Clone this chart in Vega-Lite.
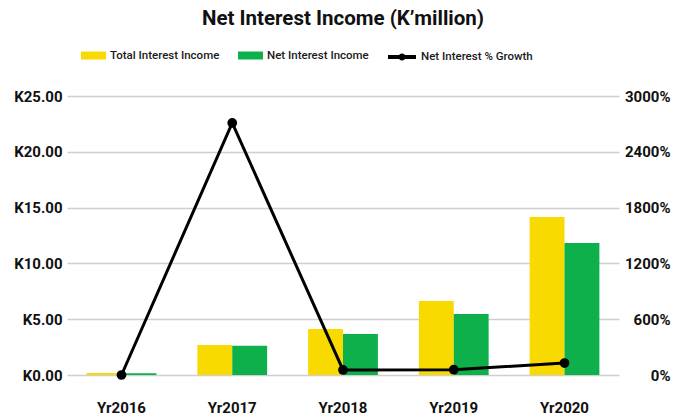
{
  "$schema": "https://vega.github.io/schema/vega-lite/v6.json",
  "width": 552,
  "height": 279,
  "autosize": {"type": "none"},
  "padding": {"left": 67, "top": 96, "right": 68, "bottom": 44},
  "background": "white",
  "title": {"text": "Net Interest Income (K’million)", "font": "Roboto", "fontSize": 20.5, "fontWeight": "bold", "color": "#111111", "anchor": "middle", "frame": "group", "offset": 14},
  "config": {"view": {"stroke": null}, "font": "Roboto"},
  "data": {"values": [
    {"year": "Yr2016", "total": 0.17, "net": 0.15, "growth": 0},
    {"year": "Yr2017", "total": 2.69, "net": 2.62, "growth": 27.1},
    {"year": "Yr2018", "total": 4.12, "net": 3.67, "growth": 0.54},
    {"year": "Yr2019", "total": 6.63, "net": 5.47, "growth": 0.57},
    {"year": "Yr2020", "total": 14.16, "net": 11.83, "growth": 1.29}
  ]},
  "layer": [
    {
      "transform": [{"fold": ["total", "net"], "as": ["key", "value"]}],
      "mark": {"type": "bar"},
      "encoding": {
        "x": {"field": "year", "type": "nominal", "scale": {"paddingInner": 0.37, "paddingOuter": 0.177},
          "axis": {"title": null, "labelAngle": 0, "labelFontSize": 15, "labelFontWeight": "bold", "labelColor": "#111111", "labelPadding": 25, "ticks": false, "domain": false, "grid": false}},
        "xOffset": {"field": "key", "type": "nominal", "sort": ["total", "net"], "scale": {"paddingInner": 0, "paddingOuter": 0}},
        "y": {"field": "value", "type": "quantitative", "scale": {"domain": [0, 25]},
          "axis": {"title": null, "values": [0, 5, 10, 15, 20, 25], "labelExpr": "'K' + format(datum.value, '.2f')", "grid": true, "gridColor": "#cfcfcf", "gridWidth": 1.5, "domain": false, "ticks": false, "labelFontSize": 15, "labelFontWeight": "bold", "labelColor": "#111111", "labelPadding": 5}},
        "fill": {"field": "key", "type": "nominal", "sort": ["total", "net"],
          "scale": {"domain": ["total", "net"], "range": ["#F9DA00", "#0DB04B"]},
          "legend": {"title": null, "orient": "none", "legendX": 14, "legendY": -53, "direction": "horizontal", "columns": 2, "columnPadding": 18,
            "labelExpr": "datum.value == 'total' ? 'Total Interest Income' : 'Net Interest Income'",
            "labelFont": "Roboto", "labelFontSize": 11.5, "labelFontWeight": 500, "labelColor": "#1a1a1a", "labelOffset": 4,
            "symbolType": "M-1,-0.32H1V0.32H-1Z", "symbolSize": 625, "symbolStrokeWidth": 0}}
      }
    },
    {
      "mark": {"type": "line", "strokeWidth": 3, "point": {"filled": true, "size": 60, "fill": "black"}},
      "encoding": {
        "x": {"field": "year", "type": "nominal"},
        "y": {"field": "growth", "type": "quantitative", "scale": {"domain": [0, 30]},
          "axis": {"orient": "right", "title": null, "values": [0, 6, 12, 18, 24, 30], "format": ".0%", "grid": false, "domain": false, "ticks": false, "labelFontSize": 15, "labelFontWeight": "bold", "labelColor": "#111111", "labelPadding": 51, "labelAlign": "right"}},
        "stroke": {"datum": "Net Interest % Growth", "scale": {"range": ["black"]},
          "legend": {"title": null, "orient": "none", "legendX": 321, "legendY": -53,
            "labelFont": "Roboto", "labelFontSize": 11.5, "labelFontWeight": 500, "labelColor": "#1a1a1a", "labelOffset": 5,
            "symbolType": "M-1,-0.14H1V0.14H-1Z M-0.25,0 A0.25,0.25 0 1,1 0.25,0 A0.25,0.25 0 1,1 -0.25,0Z", "symbolSize": 784, "symbolFillColor": "black", "symbolStrokeWidth": 0}}
      }
    }
  ],
  "resolve": {"scale": {"y": "independent"}}
}
